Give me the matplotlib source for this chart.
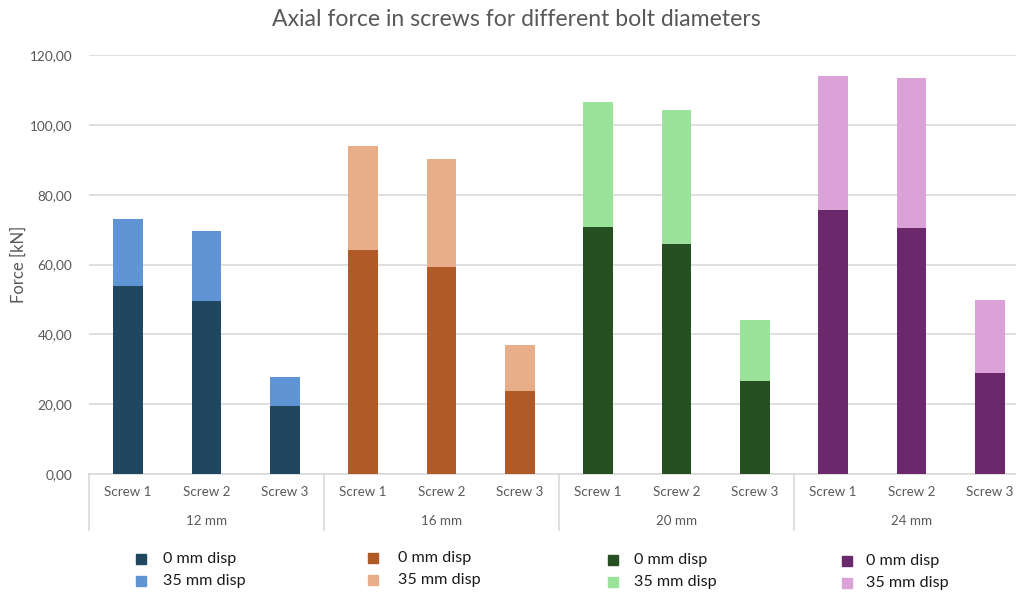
import matplotlib
matplotlib.use("Agg")
import matplotlib.pyplot as plt
from matplotlib.patches import Rectangle
import matplotlib.transforms as mtransforms

# Data: axial force [kN] per screw for each bolt diameter
diameters = ["12 mm", "16 mm", "20 mm", "24 mm"]
screws = ["Screw 1", "Screw 2", "Screw 3"]
force_0mm = [
    [53.7, 49.5, 19.5],
    [64.1, 59.3, 23.7],
    [70.8, 65.8, 26.6],
    [75.6, 70.4, 29.0],
]
force_35mm = [
    [73.0, 69.7, 27.9],
    [94.0, 90.3, 37.0],
    [106.6, 104.3, 44.0],
    [114.0, 113.3, 49.9],
]
series_labels = ["0 mm disp", "35 mm disp"]
dark_colors = ["#21465F", "#B05A28", "#275022", "#6C286C"]
light_colors = ["#5F95D4", "#E8AD89", "#9BE39A", "#DBA2D8"]
yticks = [0, 20, 40, 60, 80, 100, 120]

plt.rcParams["font.family"] = ["Lato", "DejaVu Sans"]
W, H = 1016, 592
fig = plt.figure(figsize=(W / 100, H / 100), dpi=100)

# plot area in pixel coordinates
x0, x1 = 89, 1029
y_top, y_bot = 55, 474
ax = fig.add_axes([x0 / W, 1 - y_bot / H, (x1 - x0) / W, (y_bot - y_top) / H])

grid_c = "#D9D9D9"
text_c = "#595959"
bar_w = 0.38

n_s = len(screws)
for g in range(len(diameters)):
    for s in range(n_s):
        xpos = g * n_s + s
        ax.bar(xpos, force_35mm[g][s], width=bar_w, color=light_colors[g], zorder=2)
        ax.bar(xpos, force_0mm[g][s], width=bar_w, color=dark_colors[g], zorder=3)

n_cat = len(diameters) * n_s
ax.set_xlim(-0.5, n_cat - 0.5)
ax.set_ylim(0, 120)
ax.set_yticks(yticks)
ax.set_yticklabels([f"{v:.2f}".replace(".", ",") for v in yticks])
ax.tick_params(axis="y", length=0, pad=12, labelsize=9.8, labelcolor=text_c)
ax.set_xticks([])
ax.yaxis.grid(True, color=grid_c, lw=1.2, zorder=0)
ax.set_axisbelow(True)
for side in ["top", "right", "left"]:
    ax.spines[side].set_visible(False)
ax.spines["bottom"].set_color(grid_c)
ax.spines["bottom"].set_linewidth(1.2)

ax.set_ylabel("Force [kN]", fontsize=12, color=text_c)
ax.yaxis.set_label_coords(-(89 - 27) / (x1 - x0), 0.5)

# two-level category axis
trans = mtransforms.blended_transform_factory(ax.transData, ax.transAxes)
ph = y_bot - y_top
sep_len = (530 - y_bot) / ph
for g in range(len(diameters) + 1):
    xs = g * n_s - 0.5
    ax.plot([xs, xs], [0, -sep_len], transform=trans, color=grid_c, lw=1.2,
            clip_on=False)
for g, d in enumerate(diameters):
    for s, name in enumerate(screws):
        ax.text(g * n_s + s, -(492 - y_bot) / ph, name, transform=trans,
                ha="center", va="center", fontsize=9.6, color=text_c)
    ax.text(g * n_s + 1, -(521 - y_bot) / ph, d, transform=trans,
            ha="center", va="center", fontsize=9.6, color=text_c)

fig.text(516 / W, 1 - 20 / H, "Axial force in screws for different bolt diameters",
         ha="center", va="center", fontsize=16.6, color=text_c)

# legend: one column per bolt diameter
leg_marker_x = [141, 373, 613, 847]
leg_text_x = [163, 398, 634, 866]
leg_y0 = [559, 558, 560, 561]
row_gap = 22
msz = 10
for g in range(len(diameters)):
    for r, (lab, col) in enumerate(zip(series_labels,
                                        [dark_colors[g], light_colors[g]])):
        yc = leg_y0[g] + r * row_gap
        fig.add_artist(Rectangle(((leg_marker_x[g] - msz / 2) / W, 1 - (yc + msz / 2) / H),
                                 msz / W, msz / H, transform=fig.transFigure,
                                 color=col))
        fig.text(leg_text_x[g] / W, 1 - yc / H, lab, ha="left", va="center",
                 fontsize=11.6, color="#1a1a1a")

fig.savefig("out.png", dpi=100)
